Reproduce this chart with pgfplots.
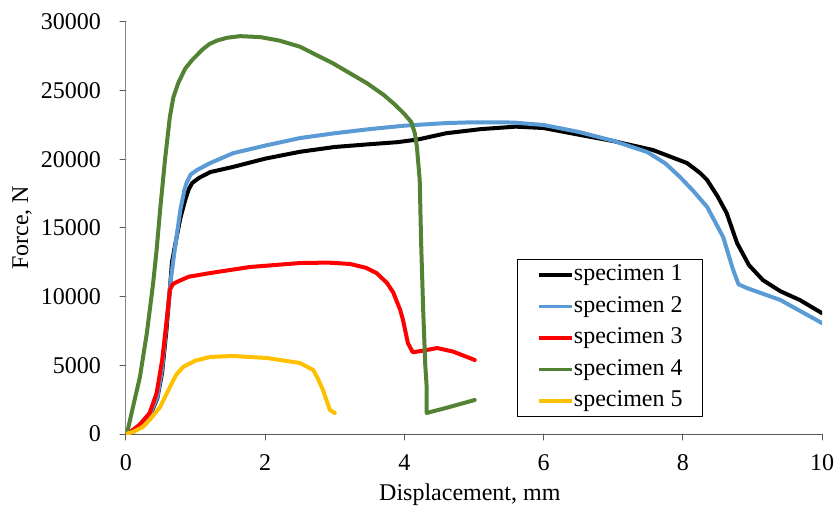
\documentclass[border=0pt]{standalone}
\usepackage{fontspec}
\setmainfont{Liberation Serif}
\usepackage{pgfplots}
\pgfplotsset{compat=1.18}
\definecolor{sblue}{HTML}{5B9BD5}
\definecolor{sgreen}{HTML}{548235}
\definecolor{syellow}{HTML}{FFC000}
\definecolor{axgrayx}{HTML}{595959}
\definecolor{axgrayy}{HTML}{868686}

\begin{document}
\fontsize{24bp}{28bp}\selectfont
\begin{tikzpicture}
\path[use as bounding box] (-126bp,-74bp) rectangle (711bp,434bp);
\begin{axis}[
  scale only axis, width=696bp, height=412bp,
  xmin=0, xmax=10, ymin=0, ymax=30000,
  axis x line=bottom, axis y line=left,
  x axis line style={-, draw=axgrayx, line width=1bp},
  y axis line style={-, draw=axgrayy, line width=1bp},
  xtick={0,2,...,10}, ytick={0,5000,...,30000},
  tick align=outside, major tick length=6bp,
  xtick style={axgrayx, line width=1bp},
  ytick style={axgrayx, line width=1bp},
  scaled y ticks=false,
  /pgf/number format/1000 sep={},
  /pgf/number format/assume math mode=true,
  xticklabel style={anchor=base, inner sep=0pt, yshift=-30bp},
  yticklabel style={anchor=east, inner sep=0pt, xshift=-19bp},
  every axis x label/.style={at={(rel axis cs:0.494,0)}, anchor=base, yshift=-66bp},
  every axis y label/.style={at={(rel axis cs:0,0.5)}, xshift=-104bp, rotate=90, anchor=center},
  xlabel={Displacement, mm}, ylabel={Force, N},
  line join=round, line cap=round,
  legend cell align=left,
  legend image code/.code={\draw[#1, line width=3.5bp, line cap=butt] (0bp,0bp) -- (33bp,0bp);},
  legend style={at={(0.829,0.425)}, anchor=north east, draw=black, line width=0.8bp,
    fill=white, inner xsep=20bp, inner ysep=4bp, row sep=8.5bp,
    nodes={inner sep=0pt, text height=17.5bp, text depth=5.5bp}},
]
\addplot[black, line width=4bp] coordinates {
(0,0) (0.1,150) (0.24,700) (0.35,1400) (0.45,2600) (0.52,4500) (0.58,7500)
(0.63,10500) (0.66,12500) (0.70,13600) (0.78,15700) (0.85,17030) (0.9,17800)
(0.95,18270) (1.05,18650) (1.21,19070) (1.54,19450) (2.0,20050) (2.5,20550)
(3.0,20900) (3.5,21100) (3.9,21250) (4.2,21450) (4.6,21900) (5.1,22200)
(5.6,22380) (6.0,22280) (6.5,21800) (7.0,21330) (7.57,20680) (8.06,19730)
(8.25,19000) (8.35,18490) (8.5,17300) (8.63,16090) (8.78,13900) (8.95,12300)
(9.15,11210) (9.4,10400) (9.68,9760) (10.0,8800)
};
\addlegendentry{specimen 1}
\addplot[sblue, line width=4bp] coordinates {
(0,0) (0.1,150) (0.24,800) (0.35,1500) (0.45,2700) (0.52,4800) (0.59,8500)
(0.65,11500) (0.70,13400) (0.78,16300) (0.84,17800) (0.87,18270) (0.93,18900)
(1.02,19220) (1.21,19730) (1.54,20450) (2.0,21000) (2.5,21550) (3.0,21900)
(3.5,22200) (4.0,22450) (4.6,22640) (5.0,22700) (5.56,22680) (6.0,22500)
(6.5,22000) (7.0,21350) (7.49,20530) (7.75,19700) (7.96,18710) (8.15,17700)
(8.35,16530) (8.58,14340) (8.72,12000) (8.8,10900) (8.92,10630) (9.4,9760)
(10.0,8080)
};
\addlegendentry{specimen 2}
\addplot[red, line width=4bp] coordinates {
(0,0) (0.1,300) (0.2,700) (0.34,1530) (0.44,2980) (0.52,5390) (0.59,8520)
(0.63,10480) (0.67,10900) (0.73,11070) (0.9,11450) (1.21,11720) (1.78,12160)
(2.5,12450) (2.9,12480) (3.22,12380) (3.45,12100) (3.6,11720) (3.75,11000)
(3.84,10300) (3.94,9030) (3.98,8300) (4.05,6620) (4.12,5950) (4.25,6050)
(4.47,6260) (4.7,6000) (5.01,5390)
};
\addlegendentry{specimen 3}
\addplot[sgreen, line width=4bp] coordinates {
(0,0) (0.03,400) (0.1,1960) (0.2,4150) (0.3,7350) (0.39,10990) (0.44,13400)
(0.49,16300) (0.56,19950) (0.63,23080) (0.68,24500) (0.75,25550) (0.85,26600)
(0.95,27230) (1.1,28000) (1.2,28400) (1.31,28650) (1.45,28850) (1.64,28970)
(1.93,28900) (2.2,28650) (2.5,28200) (2.97,27000) (3.46,25550) (3.7,24700)
(3.86,24000) (4.0,23300) (4.1,22700) (4.15,21900) (4.18,20900) (4.22,18500)
(4.24,14000) (4.27,9000) (4.3,5000) (4.32,3420) (4.32,1530) (4.6,1900)
(5.01,2475)
};
\addlegendentry{specimen 4}
\addplot[syellow, line width=4bp] coordinates {
(0,0) (0.1,150) (0.24,510) (0.34,1020) (0.49,1960) (0.59,3000) (0.63,3420)
(0.72,4300) (0.82,4880) (1.0,5350) (1.21,5610) (1.54,5680) (2.03,5530)
(2.5,5170) (2.69,4660) (2.76,4000) (2.83,3200) (2.93,1750) (3.0,1530)
};
\addlegendentry{specimen 5}
\end{axis}
\end{tikzpicture}
\end{document}
